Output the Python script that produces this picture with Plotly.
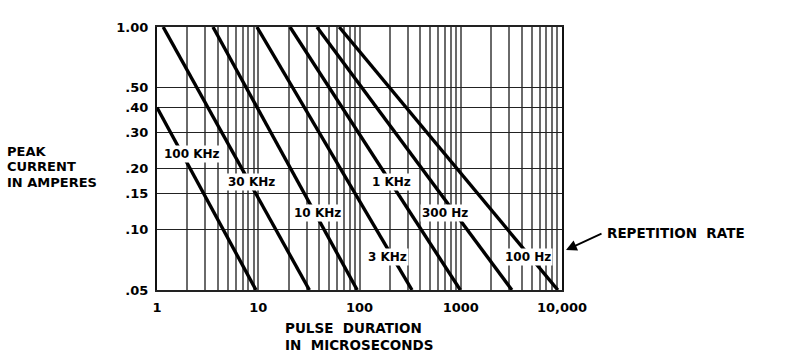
import numpy as np
import plotly.graph_objects as go

# ---- data ----
series_names = ["100 KHz", "30 KHz", "10 KHz", "3 KHz", "1 KHz", "300 Hz", "100 Hz"]
# pulse duration (microseconds) at the start and end of each straight log-log line
x_start = [1.0, 1.15, 3.57, 9.7, 20.6, 38.0, 63.0]
x_end = [9.5, 32.0, 95.0, 330.0, 990.0, 3200.0, 9100.0]
# peak current (amperes) at the start and end of each line
y_start = [0.40, 1.00, 1.00, 1.00, 1.00, 1.00, 1.00]
y_end = [0.05, 0.05, 0.05, 0.05, 0.05, 0.05, 0.05]

# label anchor points (data coords) for the repetition-rate labels
label_x = [2.22, 8.48, 38.9, 191.0, 205.0, 699.0, 4616.0]
label_y = [0.235, 0.171, 0.120, 0.0728, 0.171, 0.120, 0.0728]

x_tick_major = [1, 10, 100, 1000, 10000]
x_tick_major_text = ["1", "10", "100", "1000", "10,000"]
y_tick_vals = [0.05, 0.10, 0.15, 0.20, 0.30, 0.40, 0.50, 1.00]
y_tick_text = [".05", ".10", ".15", ".20", ".30", ".40", ".50", "1.00"]

y_title_lines = ["PEAK", "CURRENT", "IN AMPERES"]
x_title_lines = ["PULSE  DURATION", "IN  MICROSECONDS"]

FONT = "DejaVu Sans"
W, H = 786, 354
L, R, T, B = 157, 224, 27, 64
PW, PH = W - L - R, H - T - B


def px_to_paper(px, py):
    return (px - L) / PW, (H - B - py) / PH


# all vertical grid positions: 1..9 in each decade plus 10000
x_grid = []
for d in [1, 10, 100, 1000]:
    for m in range(1, 10):
        x_grid.append(d * m)
x_grid.append(10000)
x_grid_text = ["<b>%s</b>" % x_tick_major_text[x_tick_major.index(v)] if v in x_tick_major else ""
               for v in x_grid]

fig = go.Figure()
for i, name in enumerate(series_names):
    fig.add_trace(go.Scatter(
        x=[x_start[i], x_end[i]], y=[y_start[i], y_end[i]],
        mode="lines", line=dict(color="black", width=3.4),
        name=name, showlegend=False, hoverinfo="skip"))

for i, name in enumerate(series_names):
    fig.add_annotation(
        x=np.log10(label_x[i]), y=np.log10(label_y[i]), xref="x", yref="y",
        text="<b>%s</b>" % name, showarrow=False,
        font=dict(family=FONT, size=12, color="black"),
        bgcolor="white", borderpad=1)

# y-axis title (three lines)
for k, line in enumerate(y_title_lines):
    xp, yp = px_to_paper(5, 151 + 15.5 * k)
    fig.add_annotation(
        x=xp, y=yp, xref="paper", yref="paper", xanchor="left", yanchor="middle",
        text="<b>%s</b>" % line, showarrow=False,
        font=dict(family=FONT, size=13, color="black"))

# x-axis title (two lines)
for k, line in enumerate(x_title_lines):
    xp, yp = px_to_paper(283, 328 + 17 * k)
    fig.add_annotation(
        x=xp, y=yp, xref="paper", yref="paper", xanchor="left", yanchor="middle",
        text="<b>%s</b>" % line, showarrow=False,
        font=dict(family=FONT, size=13.5, color="black"))

xp, yp = px_to_paper(605, 233)
fig.add_annotation(
    x=xp, y=yp, xref="paper", yref="paper", xanchor="left", yanchor="middle",
    text="<b>REPETITION  RATE</b>", showarrow=False,
    font=dict(family=FONT, size=13.5, color="black"))

# arrow pointing to the curves
xp, yp = px_to_paper(566, 250)
fig.add_annotation(
    x=xp, y=yp, xref="paper", yref="paper",
    text="", showarrow=True, arrowhead=2, arrowsize=1.2, arrowwidth=1.8,
    arrowcolor="black", ax=37, ay=-17)

fig.update_xaxes(
    type="log", range=[0, 4], tickvals=x_grid, ticktext=x_grid_text,
    showgrid=True, gridcolor="#6a6a6a", gridwidth=1.6,
    showline=True, linecolor="#222", linewidth=2, mirror=True,
    ticks="", ticklabelstandoff=4, zeroline=False,
    tickfont=dict(family=FONT, size=13, color="black"))
fig.update_yaxes(
    type="log", range=[np.log10(0.05), 0], tickvals=y_tick_vals,
    ticktext=["<b>%s</b>" % t for t in y_tick_text],
    showgrid=True, gridcolor="#222", gridwidth=1.4,
    showline=True, linecolor="#111", linewidth=2, mirror=True,
    ticks="", ticklabelstandoff=4, zeroline=False,
    tickfont=dict(family=FONT, size=13, color="black"))

fig.update_layout(
    width=W, height=H,
    margin=dict(l=L, r=R, t=T, b=B),
    paper_bgcolor="white", plot_bgcolor="white",
    font=dict(family=FONT, color="black"))

fig.write_html("out.html")
